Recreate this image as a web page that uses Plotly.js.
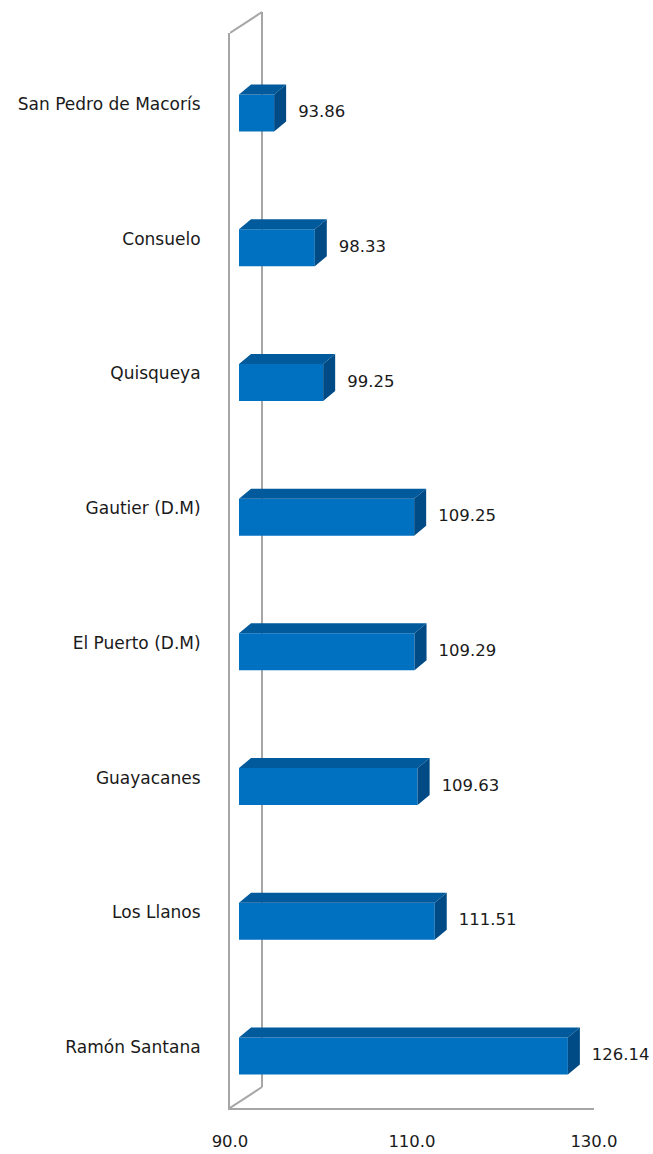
<!DOCTYPE html>
<html>
<head>
<meta charset="utf-8">
<script src="https://cdn.plot.ly/plotly-3.0.1.min.js"></script>
<style>html,body{margin:0;padding:0;background:#fff;}#chart{width:653px;height:1154px;}</style>
</head>
<body>
<div id="chart"></div>
<script>
// ---- data ----
var categories = ['San Pedro de Macorís', 'Consuelo', 'Quisqueya', 'Gautier (D.M)', 'El Puerto (D.M)', 'Guayacanes', 'Los Llanos', 'Ramón Santana'];
var values = [93.86, 98.33, 99.25, 109.25, 109.29, 109.63, 111.51, 126.14];
var valueLabels = ['93.86', '98.33', '99.25', '109.25', '109.29', '109.63', '111.51', '126.14'];
var xTickVals = [90, 110, 130];
var xTickText = ['90.0', '110.0', '130.0'];

// ---- geometry (pixels) ----
var W = 653, H = 1154;
var mL = 230, mR = 59, mT = 33, mB = 46;
var xMin = 90, xMax = 130;
var plotW = W - mL - mR, plotH = H - mT - mB;
var pxX = plotW / (xMax - xMin);            // px per x unit
var n = categories.length;
var firstC = 113, lastC = 1056;             // front face centres of first/last bar
var pxY = (lastC - firstC) / (n - 1);       // px per category step
var barShiftX = 9;                           // bars sit a little inside the wall
var labelShiftY = 9;                         // category labels sit a bit above front centres
var depthX = 12, depthY = 10;                // bar depth
var wallX = 32, wallY = 21;                  // wall depth
var barW = 37 / pxY;

function rangeFor(centerFirst) {
  var top = 0 - (centerFirst - mT) / pxY;
  var bottom = top + plotH / pxY;
  return [bottom, top];
}
var yRangeBars = rangeFor(firstC);
var yRangeLabels = rangeFor(firstC - labelShiftY);
var x2Range = [xMin - barShiftX / pxX, xMax - barShiftX / pxX];

var idx = categories.map(function (c, i) { return i; });
var dxu = depthX / pxX, dyu = depthY / pxY;

// top faces and side faces
var topX = [], topY = [], sideX = [], sideY = [];
values.forEach(function (v, i) {
  var yt = i - barW / 2, yb = i + barW / 2;
  topX.push(xMin, v, v + dxu, xMin + dxu, xMin, null);
  topY.push(yt, yt, yt - dyu, yt - dyu, yt, null);
  sideX.push(v, v + dxu, v + dxu, v, v, null);
  sideY.push(yt, yt - dyu, yb - dyu, yb, yt, null);
});

var font = 'DejaVu Sans, sans-serif';
var traces = [
  {
    type: 'bar', orientation: 'h', x: values.map(function (v) { return v - xMin; }), base: xMin,
    y: idx, width: barW, xaxis: 'x2', yaxis: 'y2',
    marker: { color: '#0070C0', line: { width: 0 } }, hoverinfo: 'skip'
  },
  {
    type: 'scatter', mode: 'lines', x: topX, y: topY, xaxis: 'x2', yaxis: 'y2',
    fill: 'toself', fillcolor: '#005A9C', line: { width: 0, color: '#005A9C' }, hoverinfo: 'skip'
  },
  {
    type: 'scatter', mode: 'lines', x: sideX, y: sideY, xaxis: 'x2', yaxis: 'y2',
    fill: 'toself', fillcolor: '#004B85', line: { width: 0, color: '#004B85' }, hoverinfo: 'skip'
  },
  {
    type: 'scatter', mode: 'text', x: values.map(function (v) { return v + (depthX + 12) / pxX; }),
    y: idx.map(function (i) { return i; }), text: valueLabels, textposition: 'middle right',
    cliponaxis: false,
    xaxis: 'x2', yaxis: 'y2', textfont: { family: font, size: 16.5, color: '#1a1a1a' }, hoverinfo: 'skip'
  },
  {
    // invisible trace to carry category labels on the main axes
    type: 'scatter', mode: 'markers', x: idx.map(function () { return xMin; }), y: idx,
    marker: { opacity: 0 }, hoverinfo: 'skip'
  }
];

var wallDXu = wallX / pxX, wallDYp = wallY / plotH;
var grey = '#A6A6A6';
var shapes = [
  { type: 'line', layer: 'below', xref: 'x', yref: 'paper', x0: xMin + wallDXu, x1: xMin + wallDXu, y0: wallDYp, y1: 1 + wallDYp, line: { color: grey, width: 2 } },
  { type: 'line', layer: 'below', xref: 'x', yref: 'paper', x0: xMin, x1: xMin + wallDXu, y0: 1, y1: 1 + wallDYp, line: { color: grey, width: 2 } },
  { type: 'line', layer: 'below', xref: 'x', yref: 'paper', x0: xMin, x1: xMin + wallDXu, y0: 0, y1: wallDYp, line: { color: grey, width: 2 } }
];

var layout = {
  width: W, height: H,
  margin: { l: mL, r: mR, t: mT, b: mB },
  paper_bgcolor: '#fff', plot_bgcolor: 'rgba(0,0,0,0)',
  showlegend: false,
  xaxis: {
    range: [xMin, xMax], tickvals: xTickVals, ticktext: xTickText, showgrid: false, zeroline: false,
    showline: true, linecolor: grey, linewidth: 2, ticks: 'outside', ticklen: 17, tickcolor: 'rgba(0,0,0,0)',
    tickfont: { family: font, size: 16.5, color: '#1a1a1a' }, fixedrange: true
  },
  yaxis: {
    type: 'linear', range: yRangeLabels, tickvals: idx, ticktext: categories, showgrid: false, zeroline: false,
    showline: true, linecolor: grey, linewidth: 2, ticks: 'outside', ticklen: 24, tickcolor: 'rgba(0,0,0,0)',
    tickfont: { family: font, size: 17, color: '#1a1a1a' }, fixedrange: true
  },
  xaxis2: { overlaying: 'x', range: x2Range, visible: false, fixedrange: true },
  yaxis2: { overlaying: 'y', range: yRangeBars, visible: false, fixedrange: true },
  shapes: shapes
};

Plotly.newPlot('chart', traces, layout, { staticPlot: true, displayModeBar: false });
</script>
</body>
</html>
